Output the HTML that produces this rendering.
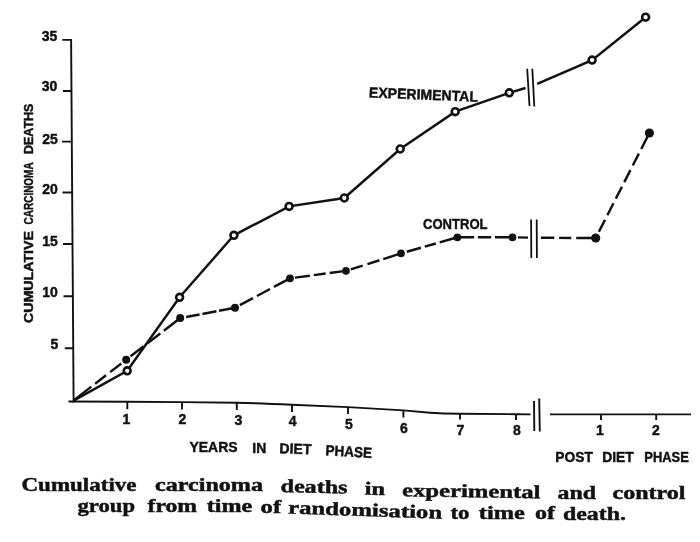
<!DOCTYPE html>
<html>
<head>
<meta charset="utf-8">
<title>Cumulative carcinoma deaths</title>
<style>
html,body{margin:0;padding:0;background:#fff;}
body{width:700px;height:542px;overflow:hidden;}
svg{display:block;}
.s{font-family:"Liberation Sans",Arial,sans-serif;font-weight:bold;fill:#111;stroke:#111;stroke-width:0.45;}
.c{font-family:"Liberation Serif","Times New Roman",serif;font-weight:bold;fill:#111;font-size:18.6px;stroke:#111;stroke-width:0.45;}
.ln{stroke:#111;stroke-width:2.45;fill:none;stroke-linecap:butt;}
.ax{stroke:#111;stroke-width:1.9;fill:none;}
.o{fill:#fff;stroke:#111;stroke-width:2.6;}
.f{fill:#111;stroke:none;}
</style>
</head>
<body>
<svg width="700" height="542" viewBox="0 0 700 542">
<rect width="700" height="542" fill="#fff"/>

<!-- axes -->
<g class="ax">
<path d="M71.1 39 L73.6 402.4"/>
<path d="M62.3 39.9H71.5 M63 91H71.8 M62 141.6H72.2 M62.5 192.5H72.5 M63 244H72.9 M63.5 296.2H73.3 M64.8 348.3H73.6"/>
<path d="M68.5 401.5 L127 401.7 L182 402.1 L237 402.8 C260 403.2 280 404.2 292 404.8 L348 407.1 L403.4 410.4 L430 412.7 C440 413.4 450 413.7 460 413.8 L516 414.2 L530.6 414.4"/>
<path d="M550 414.4 L691 414.4"/>
<path d="M127.3 401.5V409.2 M182 402V409.4 M236.8 402.6V410 M292 404.8V412 M348 407V414 M403.4 410.5V417.5 M460 413.8V419.6 M516 414.2V420 M601 414.4V420 M656.2 414.4V420"/>
<path d="M534 401 L534.3 431 M539.2 398.4 L539.8 431.6"/>
</g>

<!-- experimental -->
<g class="ln">
<path d="M73.6 400.6 L127.2 370.8 L179.6 297.3 L233.9 235.3 L289.1 206.4 L344.3 198 L400.2 149 L455.2 111.7 L509.3 92.8 L525.5 88"/>
<path d="M537.2 83.8 L592.1 60.1 L645.6 17.2"/>
<path stroke-width="1.8" d="M527.2 68.7 L529.5 106 M532.3 68.7 L534.3 106.5"/>
</g>
<!-- control -->
<g class="ln">
<path stroke-dasharray="22.5 4.8 13.7 5.2 14.1 100" d="M73.6 400.4 L126.2 359.7"/>
<path stroke-dasharray="0 5.5 16.5 4.5 16.5 4.5 20" d="M126.2 359.7 L180.2 318.1"/>
<path stroke-dasharray="0 6 13.7 2.9 14.3 2.6 20" d="M180.2 318.1 L235 307.8"/>
<path stroke-dasharray="0 5.5 14.9 4.5 14.8 4.5 20" d="M235 307.8 L290 278.3"/>
<path stroke-dasharray="0 5 15 4 12 4 20" d="M290 278.3 L346 270.9"/>
<path stroke-dasharray="0 5 12.5 5 12.6 4 20" d="M346 270.9 L401 253.4"/>
<path stroke-dasharray="0 6 14.7 4 11.5 4 20" d="M401 253.4 L457.4 237.3"/>
<path stroke-dasharray="0 3.5 13.3 3.7 13.3 3.7 20" d="M457.4 237.3 L512.5 237.3"/>
<path d="M518 237.4 L528 237.6"/>
<path stroke-dasharray="13.4 4.8 12.2 4.9 30" d="M540.9 237.8 L595.7 238"/>
<path stroke-dasharray="0 7 13.4 5.2 13.4 5.2 13.4 5.2 13.4 5.2 13.4 5.2 30" d="M595.7 238 L649.4 133"/>
<path stroke-width="1.8" d="M531.1 219.5 L531.3 258 M536.7 219.5 L536.9 258"/>
</g>

<!-- markers -->
<g class="o">
<circle cx="127.2" cy="370.8" r="3.45"/>
<circle cx="179.6" cy="297.3" r="3.45"/>
<circle cx="233.9" cy="235.3" r="3.45"/>
<circle cx="289.1" cy="206.4" r="3.45"/>
<circle cx="344.3" cy="198" r="3.45"/>
<circle cx="400.2" cy="149" r="3.45"/>
<circle cx="455.2" cy="111.7" r="3.45"/>
<circle cx="509.3" cy="92.8" r="3.45"/>
<circle cx="592.1" cy="60.1" r="3.45"/>
<circle cx="645.6" cy="17.2" r="3.45"/>
</g>
<g class="f">
<circle cx="126.2" cy="359.7" r="4"/>
<circle cx="180.2" cy="318.1" r="4"/>
<circle cx="235" cy="307.8" r="4"/>
<circle cx="290" cy="278.3" r="3.9"/>
<circle cx="346" cy="270.9" r="3.8"/>
<circle cx="401" cy="253.4" r="3.8"/>
<circle cx="457.4" cy="237.3" r="3.9"/>
<circle cx="512.5" cy="237.3" r="3.9"/>
<circle cx="595.7" cy="238" r="4.6"/>
<circle cx="649.4" cy="133" r="4.6"/>
</g>

<!-- y tick labels -->
<g class="s" font-size="14" text-anchor="end">
<text x="57.4" y="41.3">35</text>
<text x="57.4" y="91.3">30</text>
<text x="57.8" y="144.4">25</text>
<text x="57.8" y="193.5">20</text>
<text x="57.8" y="246">15</text>
<text x="57.8" y="297.2">10</text>
<text x="58.2" y="349.4">5</text>
</g>

<!-- x tick labels -->
<g class="s" font-size="14" text-anchor="middle">
<text x="126.4" y="424">1</text>
<text x="182.4" y="424">2</text>
<text x="238.4" y="424.6">3</text>
<text x="292.6" y="426.4">4</text>
<text x="349" y="429">5</text>
<text x="403.8" y="432.6">6</text>
<text x="460.3" y="435.3">7</text>
<text x="516.8" y="435.3">8</text>
<text x="599.8" y="435">1</text>
<text x="656" y="435">2</text>
</g>

<!-- axis titles -->
<g class="s" font-size="14.6">
<text x="189.5" y="452.3" textLength="48" lengthAdjust="spacingAndGlyphs">YEARS</text>
<text x="252.3" y="452.6" textLength="14" lengthAdjust="spacingAndGlyphs">IN</text>
<text transform="translate(279.3 453.2) rotate(2.2)" textLength="32" lengthAdjust="spacingAndGlyphs">DIET</text>
<text transform="translate(325.3 455.3) rotate(3.2)" textLength="46.5" lengthAdjust="spacingAndGlyphs">PHASE</text>
<text x="555.3" y="461.5" textLength="37.5" lengthAdjust="spacingAndGlyphs">POST</text>
<text x="602.3" y="461.5" textLength="31.5" lengthAdjust="spacingAndGlyphs">DIET</text>
<text x="644.3" y="461.5" textLength="44.5" lengthAdjust="spacingAndGlyphs">PHASE</text>
<text transform="translate(368.8 97.4) rotate(2.3)" textLength="109" lengthAdjust="spacingAndGlyphs">EXPERIMENTAL</text>
<text x="423" y="228.8" font-size="14.8" textLength="64.5" lengthAdjust="spacingAndGlyphs">CONTROL</text>
</g>
<g class="s" font-size="12.5">
<text transform="translate(32.6 323) rotate(-90)" textLength="92" lengthAdjust="spacingAndGlyphs">CUMULATIVE</text>
<text transform="translate(32.8 224.4) rotate(-90)" textLength="62" lengthAdjust="spacingAndGlyphs">CARCINOMA</text>
<text transform="translate(33 154) rotate(-90)" textLength="50.4" lengthAdjust="spacingAndGlyphs">DEATHS</text>
</g>

<!-- caption -->
<g class="c">
<text x="21.5" y="491" textLength="115" lengthAdjust="spacingAndGlyphs">Cumulative</text>
<text x="155" y="491" textLength="108" lengthAdjust="spacingAndGlyphs">carcinoma</text>
<text transform="translate(280.5 492) rotate(1.2)" textLength="67" lengthAdjust="spacingAndGlyphs">deaths</text>
<text transform="translate(364.5 494.6) rotate(1.5)" textLength="20.5" lengthAdjust="spacingAndGlyphs">in</text>
<text transform="translate(402 496.3) rotate(0.8)" textLength="138.5" lengthAdjust="spacingAndGlyphs">experimental</text>
<text x="557.5" y="498.7" textLength="38.5" lengthAdjust="spacingAndGlyphs">and</text>
<text x="612.5" y="499.2" textLength="73" lengthAdjust="spacingAndGlyphs">control</text>

<text x="77.5" y="512" textLength="57.5" lengthAdjust="spacingAndGlyphs">group</text>
<text x="147.5" y="512" textLength="49.5" lengthAdjust="spacingAndGlyphs">from</text>
<text x="206.8" y="512" textLength="45.5" lengthAdjust="spacingAndGlyphs">time</text>
<text x="260.6" y="512.7" textLength="20.6" lengthAdjust="spacingAndGlyphs">of</text>
<text transform="translate(288 513.4) rotate(2)" textLength="154" lengthAdjust="spacingAndGlyphs">randomisation</text>
<text x="450.5" y="518.6" textLength="19" lengthAdjust="spacingAndGlyphs">to</text>
<text x="478.8" y="518.8" textLength="46" lengthAdjust="spacingAndGlyphs">time</text>
<text x="535" y="519.2" textLength="20" lengthAdjust="spacingAndGlyphs">of</text>
<text x="563" y="519.6" textLength="63" lengthAdjust="spacingAndGlyphs">death.</text>
</g>
</svg>
</body>
</html>
